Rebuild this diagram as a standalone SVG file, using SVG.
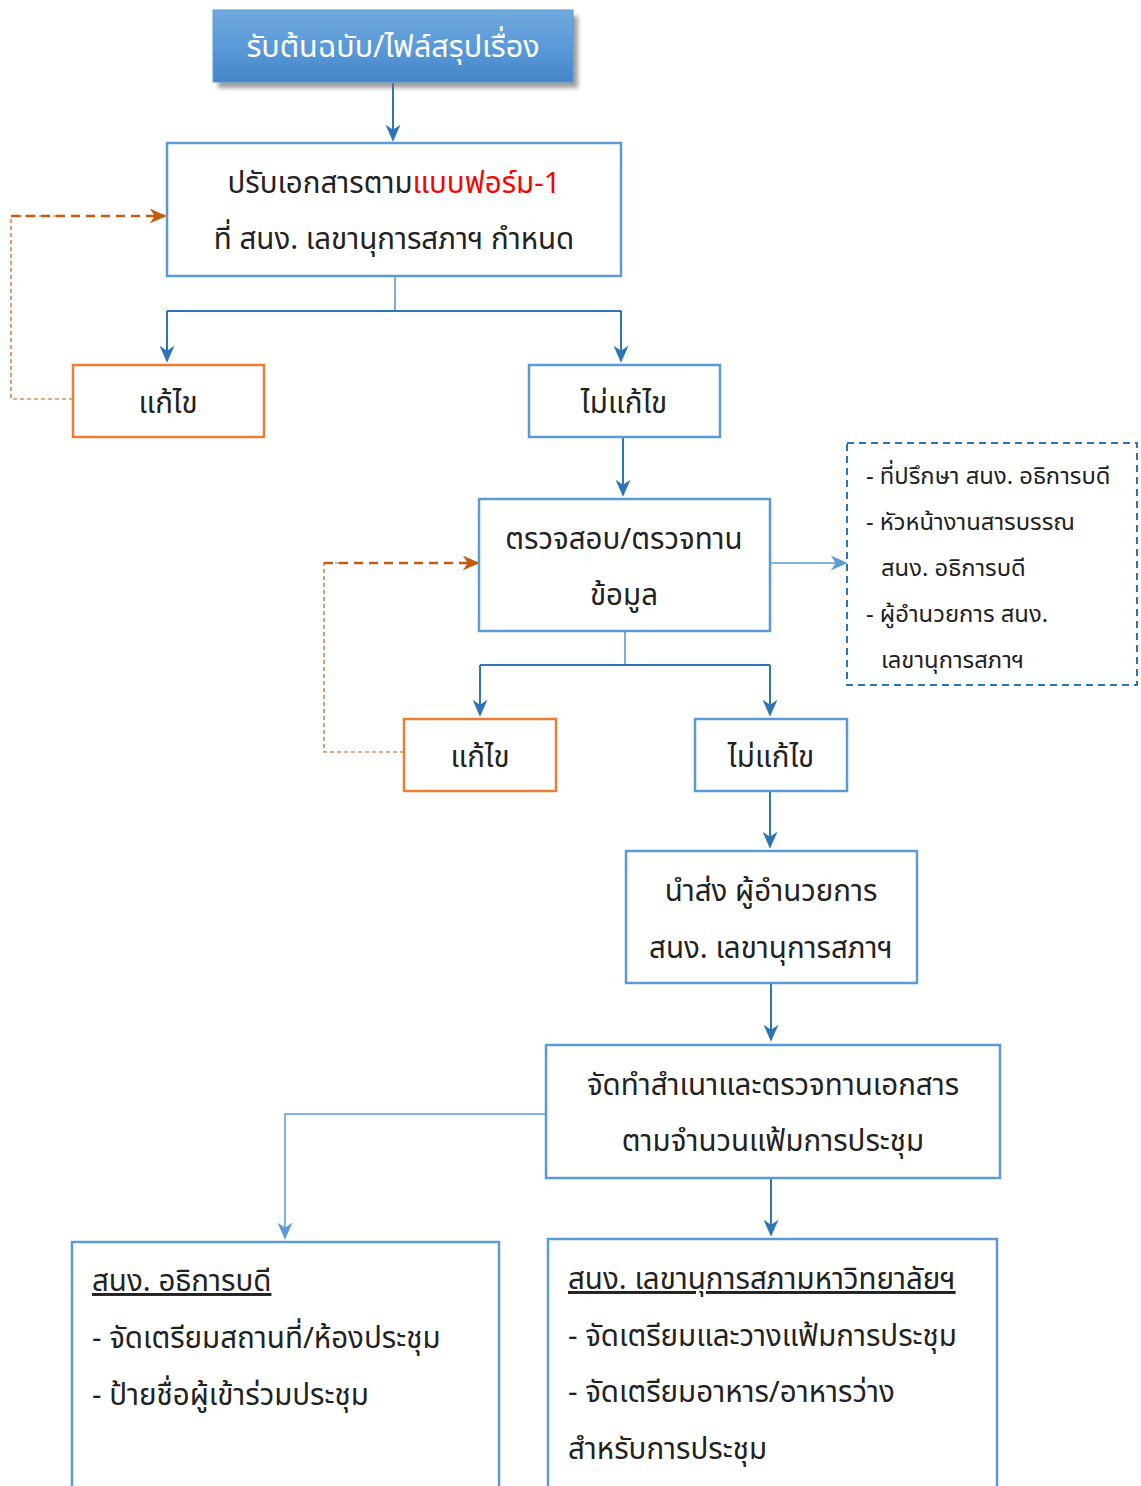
<svg xmlns="http://www.w3.org/2000/svg" width="1141" height="1486" viewBox="0 0 1141 1486">
<defs>
<linearGradient id="gTop" x1="0" y1="0" x2="0" y2="1">
<stop offset="0" stop-color="#72a9de"/>
<stop offset="0.5" stop-color="#5a9ad8"/>
<stop offset="1" stop-color="#4586c8"/>
</linearGradient>
<filter id="sh" x="-10%" y="-20%" width="130%" height="160%">
<feGaussianBlur stdDeviation="2"/>
</filter>
<marker id="aB" viewBox="0 0 10 10" refX="9" refY="5" markerWidth="17" markerHeight="15" markerUnits="userSpaceOnUse" orient="auto" preserveAspectRatio="none">
<path d="M0,0 L10,5 L0,10 L3,5 z" fill="#2e75b6"/>
</marker>
<marker id="aL" viewBox="0 0 10 10" refX="9" refY="5" markerWidth="17" markerHeight="15" markerUnits="userSpaceOnUse" orient="auto" preserveAspectRatio="none">
<path d="M0,0 L10,5 L0,10 L3,5 z" fill="#5b9bd5"/>
</marker>
<marker id="aO" viewBox="0 0 10 10" refX="9" refY="5" markerWidth="17" markerHeight="15" markerUnits="userSpaceOnUse" orient="auto" preserveAspectRatio="none">
<path d="M0,0 L10,5 L0,10 L3,5 z" fill="#c55a11"/>
</marker>
</defs>
<style>
text{font-family:"Noto Sans Thai","TH Sarabun New","Loma","Garuda","Liberation Sans","DejaVu Sans",sans-serif;fill:#222;}
.t{font-size:29.5px;text-anchor:middle;}
.s{font-size:23.8px;}
.l{font-size:29.5px;}
.bx{fill:#fff;stroke:#5b9bd5;stroke-width:2.5;}
.ob{fill:#fff;stroke:#ed7d31;stroke-width:2.5;}
.c{fill:none;stroke:#2e75b6;stroke-width:2;}
.cl{fill:none;stroke:#5b9bd5;stroke-width:1.5;}
.cv{fill:none;stroke:#2e75b6;stroke-width:1.2;}
.od{fill:none;stroke:#c55a11;stroke-width:2.5;stroke-dasharray:9,6;}
.ot{fill:none;stroke:#c55a11;stroke-width:1.2;stroke-dasharray:4,3;}
</style>

<g id="connectors">
<line class="c" x1="393" y1="83" x2="393" y2="140" marker-end="url(#aB)"/>
<path class="cv" d="M395,277 V311"/>
<path class="c" d="M167,311 H621"/>
<path class="c" d="M167,311 V361" marker-end="url(#aB)"/>
<path class="c" d="M621,311 V361" marker-end="url(#aB)"/>
<path class="ot" d="M73,399 H11 V216 H60"/>
<path class="od" d="M11,216 H165" marker-end="url(#aO)"/>
<line class="c" x1="623" y1="438" x2="623" y2="495" marker-end="url(#aB)"/>
<line class="cl" x1="771" y1="563" x2="846" y2="563" marker-end="url(#aL)"/>
<path class="cv" d="M625,632 V665"/>
<path class="c" d="M480,665 H770"/>
<path class="c" d="M480,665 V715" marker-end="url(#aB)"/>
<path class="c" d="M770,665 V715" marker-end="url(#aB)"/>
<path class="ot" d="M404,752 H324 V563 H340"/>
<path class="od" d="M324,563 H478" marker-end="url(#aO)"/>
<line class="c" x1="770" y1="792" x2="770" y2="847" marker-end="url(#aB)"/>
<line class="c" x1="771" y1="984" x2="771" y2="1040" marker-end="url(#aB)"/>
<path class="cl" d="M546,1114 H285 V1238" marker-end="url(#aL)"/>
<line class="c" x1="771" y1="1179" x2="771" y2="1235" marker-end="url(#aB)"/>
</g>

<g id="n1">
<rect x="218" y="16" width="360" height="72" fill="#777" opacity="0.7" filter="url(#sh)"/>
<rect x="213" y="10" width="360" height="72" fill="url(#gTop)" stroke="#5b9bd5" stroke-width="1"/>
<text x="393" y="57" class="t" style="fill:#fff;font-size:30.5px;">รับต้นฉบับ/ไฟล์สรุปเรื่อง</text>
</g>

<g id="n2">
<rect class="bx" x="167" y="143" width="454" height="133"/>
<text x="394" y="193" class="t">ปรับเอกสารตาม<tspan style="fill:#ff0000;">แบบฟอร์ม-1</tspan></text>
<text x="394" y="249" class="t">ที่ สนง. เลขานุการสภาฯ กำหนด</text>
</g>

<g id="n3">
<rect class="ob" x="73" y="365" width="191" height="72"/>
<text x="168" y="413" class="t">แก้ไข</text>
</g>

<g id="n4">
<rect class="bx" x="529" y="365" width="191" height="72"/>
<text x="624" y="413" class="t">ไม่แก้ไข</text>
</g>

<g id="n5">
<rect class="bx" x="479" y="499" width="291" height="132"/>
<text x="624" y="549" class="t">ตรวจสอบ/ตรวจทาน</text>
<text x="624" y="605" class="t">ข้อมูล</text>
</g>

<g id="n6">
<rect x="847" y="443" width="290" height="242" fill="#fff" stroke="#2e75b6" stroke-width="2" stroke-dasharray="7,5"/>
<text x="866" y="484" class="s">- ที่ปรึกษา สนง. อธิการบดี</text>
<text x="866" y="530" class="s">- หัวหน้างานสารบรรณ</text>
<text x="881" y="576" class="s">สนง. อธิการบดี</text>
<text x="866" y="622" class="s">- ผู้อำนวยการ สนง.</text>
<text x="881" y="668" class="s">เลขานุการสภาฯ</text>
</g>

<g id="n7">
<rect class="ob" x="404" y="719" width="152" height="72"/>
<text x="480" y="767" class="t">แก้ไข</text>
</g>

<g id="n8">
<rect class="bx" x="695" y="719" width="152" height="72"/>
<text x="771" y="767" class="t">ไม่แก้ไข</text>
</g>

<g id="n9">
<rect class="bx" x="626" y="851" width="291" height="132"/>
<text x="771" y="901" class="t">นำส่ง ผู้อำนวยการ</text>
<text x="771" y="958" class="t">สนง. เลขานุการสภาฯ</text>
</g>

<g id="n10">
<rect class="bx" x="546" y="1045" width="454" height="133"/>
<text x="773" y="1095" class="t">จัดทำสำเนาและตรวจทานเอกสาร</text>
<text x="773" y="1151" class="t">ตามจำนวนแฟ้มการประชุม</text>
</g>

<g id="n11">
<rect class="bx" x="72" y="1242" width="427" height="260"/>
<text x="92" y="1291" class="l" text-decoration="underline">สนง. อธิการบดี</text>
<text x="92" y="1348" class="l">- จัดเตรียมสถานที่/ห้องประชุม</text>
<text x="92" y="1405" class="l">- ป้ายชื่อผู้เข้าร่วมประชุม</text>
</g>

<g id="n12">
<rect class="bx" x="548" y="1239" width="449" height="260"/>
<text x="568" y="1289" class="l" text-decoration="underline">สนง. เลขานุการสภามหาวิทยาลัยฯ</text>
<text x="568" y="1346" class="l">- จัดเตรียมและวางแฟ้มการประชุม</text>
<text x="568" y="1402" class="l">- จัดเตรียมอาหาร/อาหารว่าง</text>
<text x="568" y="1459" class="l">สำหรับการประชุม</text>
</g>
</svg>
